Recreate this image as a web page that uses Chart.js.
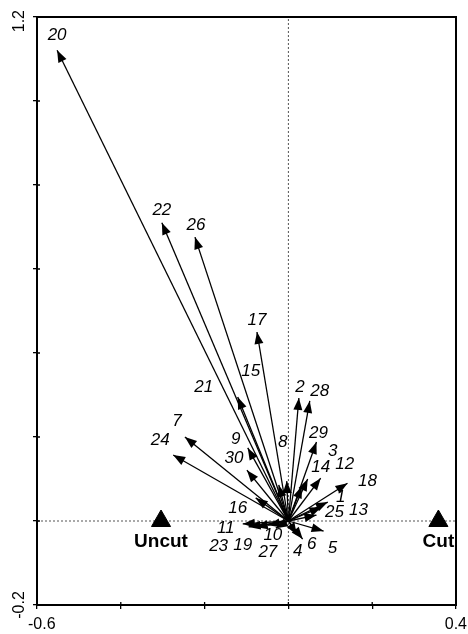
<!DOCTYPE html>
<html>
<head>
<meta charset="utf-8">
<script src="https://cdn.jsdelivr.net/npm/chart.js@4/dist/chart.umd.min.js"></script>
<style>
  html, body { margin: 0; padding: 0; background: #fff; }
  #wrap { width: 468px; height: 634px; position: relative; }
</style>
</head>
<body>
<div id="wrap"><canvas id="c"></canvas></div>
<script>
// Species vectors (biplot arrows from the origin)
const speciesIds = ['1','2','3','4','5','6','7','8','9','10','11','12','13','14','15',
                    '16','17','18','19','20','21','22','23','24','25','26','27','28','29','30'];
const speciesX = [0.094, 0.025, 0.046, 0.020, 0.084, 0.034, -0.247, -0.004, -0.097, -0.049,
                  -0.109, 0.077, 0.067, 0.032, -0.023, -0.078, -0.075, 0.141, -0.078, -0.552,
                  -0.121, -0.302, -0.095, -0.275, 0.079, -0.223, -0.030, 0.051, 0.067, -0.099];
const speciesY = [0.045, 0.293, 0.100, -0.033, -0.024, -0.043, 0.200, 0.095, 0.174, -0.010,
                  -0.007, 0.102, 0.014, 0.083, 0.086, 0.055, 0.450, 0.090, -0.014, 1.121,
                  0.295, 0.710, -0.014, 0.157, 0.033, 0.676, -0.017, 0.286, 0.188, 0.121];

// Treatment centroids
const treatmentNames = ['Uncut', 'Cut'];
const treatmentX = [-0.304, 0.358];
const treatmentY = [0, 0];

// Axis ranges and the labelled ticks
const xRange = [-0.6, 0.4];
const yRange = [-0.2, 1.2];
const tickStep = 0.2;
const xTickLabels = ['-0.6', '0.4'];
const yTickLabels = ['-0.2', '1.2'];

// Label placement: pixel offset of each species number from its arrow tip
const labelOffsets = [
  [13,-5],[1,-11],[25,-28],[1,16],[9,17],[9,5],[-8,-16],[-4,-39],[-12,-9],[5,10],
  [-17,4],[24,-14],[42,-5],[19,-19],[-28,-114],[-18,10],[0,-12],[20,-2],[-13,18],[0,-15],
  [-34,-10],[0,-13],[-30,19],[-13,-15],[13,5],[1,-12],[-8,24],[10,-10],[2,-9],[-13,-12]
];

const FONT = '"Liberation Sans", Arial, Helvetica, sans-serif';

const datasets = [];
// zero reference lines
datasets.push({
  data: [{x: 0, y: yRange[0]}, {x: 0, y: yRange[1]}],
  showLine: true, pointRadius: 0, borderColor: '#555', borderWidth: 1,
  borderDash: [2, 2], order: 10
});
datasets.push({
  data: [{x: xRange[0], y: 0}, {x: xRange[1], y: 0}],
  showLine: true, pointRadius: 0, borderColor: '#555', borderWidth: 1,
  borderDash: [2, 2], order: 10
});
// species arrows
speciesIds.forEach((id, i) => {
  datasets.push({
    label: id,
    data: [{x: 0, y: 0}, {x: speciesX[i], y: speciesY[i]}],
    showLine: true, pointRadius: 0, borderColor: '#000', borderWidth: 1.3,
    order: 2
  });
});
// treatment triangles
datasets.push({
  label: 'treatments',
  data: treatmentX.map((x, i) => ({x, y: treatmentY[i]})),
  showLine: false, pointStyle: 'triangle', pointRadius: 11,
  backgroundColor: '#000', borderColor: '#000', borderWidth: 1, order: 0
});

const overlay = {
  id: 'overlay',
  afterDatasetsDraw(chart) {
    const {ctx, chartArea: a, scales: {x, y}} = chart;
    const ox = x.getPixelForValue(0), oy = y.getPixelForValue(0);
    ctx.save();
    ctx.fillStyle = '#000';
    ctx.strokeStyle = '#000';

    // arrowheads
    speciesIds.forEach((id, i) => {
      const px = x.getPixelForValue(speciesX[i]);
      const py = y.getPixelForValue(speciesY[i]);
      const ang = Math.atan2(py - oy, px - ox);
      const L = 12, W = 4.5;
      const c = Math.cos(ang), s = Math.sin(ang);
      ctx.beginPath();
      ctx.moveTo(px, py);
      ctx.lineTo(px - L * c + W * s, py - L * s - W * c);
      ctx.lineTo(px - L * c - W * s, py - L * s + W * c);
      ctx.closePath();
      ctx.fill();
    });

    // species numbers
    ctx.font = 'italic 17px ' + FONT;
    ctx.textAlign = 'center';
    ctx.textBaseline = 'middle';
    speciesIds.forEach((id, i) => {
      const px = x.getPixelForValue(speciesX[i]);
      const py = y.getPixelForValue(speciesY[i]);
      ctx.fillText(id, px + labelOffsets[i][0], py + labelOffsets[i][1]);
    });

    // treatment names
    ctx.font = 'bold 19px ' + FONT;
    treatmentNames.forEach((name, i) => {
      const px = x.getPixelForValue(treatmentX[i]);
      const py = y.getPixelForValue(treatmentY[i]);
      ctx.fillText(name, px, py + 21);
    });

    // frame
    ctx.lineWidth = 2;
    ctx.strokeRect(a.left, a.top, a.right - a.left, a.bottom - a.top);

    // inner tick marks
    ctx.lineWidth = 1.3;
    ctx.beginPath();
    for (let v = xRange[0]; v <= xRange[1] + 1e-9; v += tickStep) {
      const px = x.getPixelForValue(v);
      ctx.moveTo(px, a.bottom); ctx.lineTo(px, a.bottom - 3);
    }
    for (let v = yRange[0]; v <= yRange[1] + 1e-9; v += tickStep) {
      const py = y.getPixelForValue(v);
      ctx.moveTo(a.left, py); ctx.lineTo(a.left + 3, py);
    }
    ctx.stroke();

    // end tick labels
    ctx.font = '16px ' + FONT;
    ctx.textBaseline = 'top';
    const W = chart.width;
    xTickLabels.forEach(t => {
      const w = ctx.measureText(t).width;
      let cx = x.getPixelForValue(parseFloat(t));
      cx = Math.max(cx, 28 + w / 2);
      cx = Math.min(cx, W - 1 - w / 2);
      ctx.fillText(t, cx, a.bottom + 12);
    });
    yTickLabels.forEach(t => {
      const w = ctx.measureText(t).width;
      let cy = y.getPixelForValue(parseFloat(t));
      cy = Math.max(cy, 10 + w / 2);
      ctx.save();
      ctx.translate(20, cy);
      ctx.rotate(-Math.PI / 2);
      ctx.textBaseline = 'middle';
      ctx.fillText(t, 0, 0);
      ctx.restore();
    });
    ctx.restore();
  }
};

new Chart(document.getElementById('c'), {
  type: 'scatter',
  data: { datasets },
  options: {
    responsive: true,
    maintainAspectRatio: false,
    animation: false,
    layout: { padding: { top: 17, right: 11, left: 0, bottom: 0 } },
    plugins: { legend: { display: false }, tooltip: { enabled: false } },
    elements: { line: { tension: 0 } },
    scales: {
      x: {
        type: 'linear', min: xRange[0], max: xRange[1],
        ticks: { display: false, stepSize: tickStep },
        grid: { drawOnChartArea: false, drawTicks: true, tickLength: 4, color: '#000', lineWidth: 1.3 },
        border: { display: true, color: '#000', width: 2 },
        afterFit: s => { s.height = 29; }
      },
      y: {
        type: 'linear', min: yRange[0], max: yRange[1],
        ticks: { display: false, stepSize: tickStep },
        grid: { drawOnChartArea: false, drawTicks: true, tickLength: 4, color: '#000', lineWidth: 1.3 },
        border: { display: true, color: '#000', width: 2 },
        afterFit: s => { s.width = 37; }
      }
    }
  },
  plugins: [overlay]
});
</script>
</body>
</html>
